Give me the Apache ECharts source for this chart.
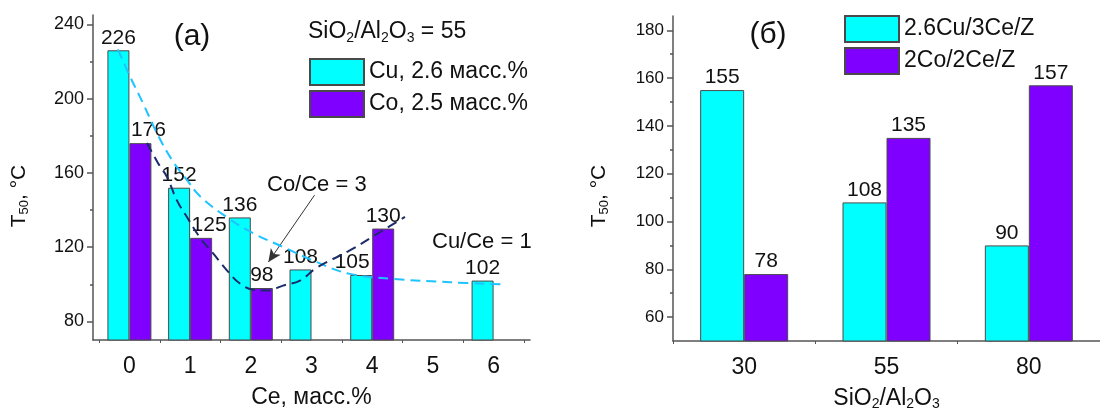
<!DOCTYPE html>
<html><head><meta charset="utf-8">
<script src="https://cdn.jsdelivr.net/npm/echarts@6/dist/echarts.min.js"></script>
<style>html,body{margin:0;padding:0;background:#fff}#c{width:1100px;height:418px}</style>
</head><body><div id="c"></div>
<script>
// ---------- Panel (a) data ----------
const ceContentCu = [0, 1, 2, 3, 4, 6];
const cuT50 = [226, 152, 136, 108, 105, 102];
const ceContentCo = [0, 1, 2, 4];
const coT50 = [176, 125, 98, 130];
const leftXLabels = [0, 1, 2, 3, 4, 5, 6];
const leftXTickMarks = [-0.5, 0.5, 1.5, 2.5, 3.5, 4.5, 5.5, 6.5];
const leftYLabels = [80, 120, 160, 200, 240];
const leftYMinor = [100, 140, 180, 220];
// dashed trend curves
const cuFitX = [-0.19, 0.01, 0.22, 0.45, 0.70, 0.95, 1.16, 1.61, 2.05, 2.54, 3.09, 3.63, 4.35, 5.28, 6.19];
const cuFitY = [226.5, 211.9, 197.8, 181.6, 167.0, 156.1, 147.5, 136.0, 127.3, 120.0, 111.9, 105.6, 102.9, 101.1, 99.9];
const coFitX = [0.29, 0.47, 0.62, 0.78, 0.95, 1.16, 1.38, 1.61, 1.82, 2.04, 2.27, 2.53, 2.81, 3.09, 3.63, 4.18, 4.54];
const coFitY = [176.1, 165.3, 157.8, 145.3, 136.1, 125.3, 116.6, 107.4, 100.4, 97.1, 96.6, 99.3, 102.0, 109.0, 118.2, 129.1, 136.3];
const arrowFrom = [3.05, 148];
const arrowTo = [2.29, 112];

// ---------- Panel (б) data ----------
const ratioCats = ['30', '55', '80'];
const cuCeZ = [155, 108, 90];
const coCeZ = [78, 135, 157];
const rightYLabels = [60, 80, 100, 120, 140, 160, 180];
const rightYMinor = [70, 90, 110, 130, 150, 170];

// ---------- styles ----------
const FONT = '"Liberation Sans", Arial, sans-serif';
const AX = '#555';
const CYAN = '#00FFFF';
const PURPLE = '#8000FF';
const TXT = '#111';
const barItem = c => ({ color: c, borderColor: '#4a4a4a', borderWidth: 1 });
const cuLabelShift = { 4: [-9, 0] };
const coLabelShift = { 0: [8, 0], 1: [8, 0] };

const barLabel = {
  show: true, position: 'top', distance: 2, fontSize: 21, color: TXT, fontFamily: FONT,
  formatter: p => Array.isArray(p.value) ? p.value[1] : p.value
};
const subStyle = { fontSize: 14, fontFamily: FONT, color: TXT, padding: [12, 0, 0, 0], lineHeight: 10 };
const ySub = { fontSize: 13, fontFamily: FONT, color: TXT, padding: [10, 0, 0, 0], lineHeight: 8 };

const cuData = ceContentCu.map((x, i) => {
  const it = { value: [x, cuT50[i]] };
  if (cuLabelShift[i]) it.label = { offset: cuLabelShift[i] };
  return it;
});
const coData = ceContentCo.map((x, i) => {
  const it = { value: [x, coT50[i]] };
  if (coLabelShift[i]) it.label = { offset: coLabelShift[i] };
  return it;
});
const pairs = (xs, ys) => xs.map((x, i) => [x, ys[i]]);

const axLine = { show: true, onZero: false, lineStyle: { color: AX, width: 1.5 } };
const noLine = { show: false, onZero: false };

const chart = echarts.init(document.getElementById('c'));
chart.setOption({
  animation: false,
  backgroundColor: '#fff',
  textStyle: { fontFamily: FONT },
  grid: [
    { left: 93, top: 15, width: 437, height: 325 },
    { left: 673, top: 16, width: 435, height: 325 }
  ],
  xAxis: [
    {
      type: 'value', gridIndex: 0, min: -0.6, max: 6.6,
      axisLine: axLine,
      axisTick: { show: true, customValues: leftXTickMarks, length: 3, lineStyle: { color: AX, width: 1 } },
      axisLabel: { customValues: leftXLabels, fontSize: 23, color: TXT, margin: 15, fontFamily: FONT },
      splitLine: { show: false },
      name: 'Ce, масс.%', nameLocation: 'middle', nameGap: 46,
      nameTextStyle: { fontSize: 23, color: TXT, fontFamily: FONT }
    },
    {
      type: 'category', gridIndex: 1, data: ratioCats,
      axisLine: axLine,
      axisTick: { show: true, length: 3, lineStyle: { color: AX, width: 1 } },
      axisLabel: { fontSize: 23, color: TXT, margin: 15, fontFamily: FONT },
      name: 'SiO{s|2}/Al{s|2}O{s|3}', nameLocation: 'middle', nameGap: 46,
      nameTextStyle: { fontSize: 23, color: TXT, fontFamily: FONT, rich: { s: subStyle } }
    }
  ],
  yAxis: [
    {
      type: 'value', gridIndex: 0, min: 70, max: 245, position: 'left',
      axisLine: axLine,
      axisTick: { show: true, customValues: leftYLabels, length: 6, lineStyle: { color: AX, width: 1.5 } },
      axisLabel: { customValues: leftYLabels, fontSize: 18, color: TXT, margin: 9, fontFamily: FONT },
      splitLine: { show: false }
    },
    {
      type: 'value', gridIndex: 0, min: 70, max: 245, position: 'left',
      axisLine: noLine,
      axisTick: { show: true, customValues: leftYMinor, length: 3, lineStyle: { color: AX, width: 1.5 } },
      axisLabel: { show: false }, splitLine: { show: false }
    },
    {
      type: 'value', gridIndex: 1, min: 50, max: 186, position: 'left',
      axisLine: axLine,
      axisTick: { show: true, customValues: rightYLabels, length: 6, lineStyle: { color: AX, width: 1.5 } },
      axisLabel: { customValues: rightYLabels, fontSize: 17, color: TXT, margin: 9, fontFamily: FONT },
      splitLine: { show: false }
    },
    {
      type: 'value', gridIndex: 1, min: 50, max: 186, position: 'left',
      axisLine: noLine,
      axisTick: { show: true, customValues: rightYMinor, length: 3, lineStyle: { color: AX, width: 1.5 } },
      axisLabel: { show: false }, splitLine: { show: false }
    }
  ],
  legend: [
    {
      data: ['Cu, 2.6 масс.%', 'Co, 2.5 масс.%'], left: 309, top: 58, orient: 'vertical',
      itemWidth: 54, itemHeight: 26, itemGap: 4, padding: 0, selectedMode: false, icon: 'rect',
      textStyle: { fontSize: 23, color: TXT, fontFamily: FONT }
    },
    {
      data: ['2.6Cu/3Ce/Z', '2Co/2Ce/Z'], left: 844, top: 15, orient: 'vertical',
      itemWidth: 54, itemHeight: 26, itemGap: 4, padding: 0, selectedMode: false, icon: 'rect',
      textStyle: { fontSize: 23, color: TXT, fontFamily: FONT }
    }
  ],
  series: [
    {
      name: 'Cu, 2.6 масс.%', type: 'bar', xAxisIndex: 0, yAxisIndex: 0,
      barWidth: 22, barGap: '0%', itemStyle: barItem(CYAN), label: barLabel, data: cuData
    },
    {
      name: 'Co, 2.5 масс.%', type: 'bar', xAxisIndex: 0, yAxisIndex: 0,
      barWidth: 22, barGap: '0%', itemStyle: barItem(PURPLE), label: barLabel, data: coData
    },
    {
      name: 'cuFit', type: 'line', xAxisIndex: 0, yAxisIndex: 0, smooth: 0.4, symbol: 'none', z: 5,
      lineStyle: { color: '#1EC3FF', width: 2, type: [10, 6] }, data: pairs(cuFitX, cuFitY), silent: true
    },
    {
      name: 'coFit', type: 'line', xAxisIndex: 0, yAxisIndex: 0, smooth: 0.4, symbol: 'none', z: 5,
      lineStyle: { color: '#1B2C6B', width: 2, type: [10, 6] }, data: pairs(coFitX, coFitY), silent: true,
      markLine: {
        silent: true, symbol: ['none', 'arrow'], symbolSize: [9, 13],
        label: { show: false },
        lineStyle: { color: '#333', width: 1, type: 'solid' },
        data: [[{ coord: arrowFrom }, { coord: arrowTo }]]
      }
    },
    {
      name: '2.6Cu/3Ce/Z', type: 'bar', xAxisIndex: 1, yAxisIndex: 2,
      barWidth: 44, barGap: '0%', itemStyle: barItem(CYAN), label: barLabel, data: cuCeZ
    },
    {
      name: '2Co/2Ce/Z', type: 'bar', xAxisIndex: 1, yAxisIndex: 2,
      barWidth: 44, barGap: '0%', itemStyle: barItem(PURPLE), label: barLabel, data: coCeZ
    }
  ],
  graphic: [
    { type: 'text', x: 192, y: 37, style: { text: '(a)', fontSize: 30, fontFamily: FONT, fill: TXT, align: 'center', verticalAlign: 'middle' } },
    { type: 'text', x: 768, y: 35, style: { text: '(б)', fontSize: 30, fontFamily: FONT, fill: TXT, align: 'center', verticalAlign: 'middle' } },
    { type: 'text', x: 308, y: 32, style: { text: 'SiO{s|2}/Al{s|2}O{s|3} = 55', fontSize: 23, fontFamily: FONT, fill: TXT, align: 'left', verticalAlign: 'middle', rich: { s: subStyle } } },
    { type: 'text', x: 267, y: 185, style: { text: 'Co/Ce = 3', fontSize: 22, fontFamily: FONT, fill: TXT, align: 'left', verticalAlign: 'middle' } },
    { type: 'text', x: 432, y: 242, style: { text: 'Cu/Ce = 1', fontSize: 22, fontFamily: FONT, fill: TXT, align: 'left', verticalAlign: 'middle' } },
    { type: 'text', x: 19, y: 196, rotation: Math.PI / 2, style: { text: 'T{s|50}, °C', fontSize: 21, fontFamily: FONT, fill: TXT, align: 'center', verticalAlign: 'middle', rich: { s: ySub } } },
    { type: 'text', x: 599, y: 196, rotation: Math.PI / 2, style: { text: 'T{s|50}, °C', fontSize: 21, fontFamily: FONT, fill: TXT, align: 'center', verticalAlign: 'middle', rich: { s: ySub } } }
  ]
});
</script>
</body></html>
